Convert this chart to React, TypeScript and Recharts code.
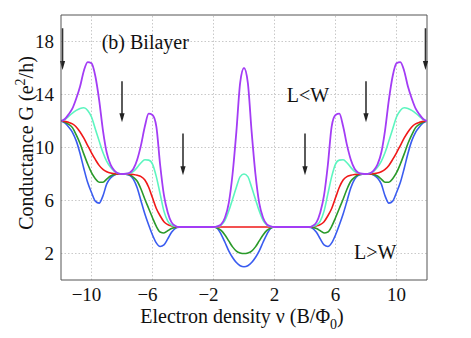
import {
  LineChart,
  Line,
  XAxis,
  YAxis,
  ReferenceLine,
  ReferenceDot,
  Label,
} from "recharts";

// filling factor nu, step 0.25
const nu = [
  -12, -11.75, -11.5, -11.25, -11, -10.75, -10.5, -10.25, -10, -9.75, -9.5,
  -9.25, -9, -8.75, -8.5, -8.25, -8, -7.75, -7.5, -7.25, -7, -6.75, -6.5,
  -6.25, -6, -5.75, -5.5, -5.25, -5, -4.75, -4.5, -4.25, -4, -3.75, -3.5,
  -3.25, -3, -2.75, -2.5, -2.25, -2, -1.75, -1.5, -1.25, -1, -0.75, -0.5,
  -0.25, 0, 0.25, 0.5, 0.75, 1, 1.25, 1.5, 1.75, 2, 2.25, 2.5, 2.75, 3, 3.25,
  3.5, 3.75, 4, 4.25, 4.5, 4.75, 5, 5.25, 5.5, 5.75, 6, 6.25, 6.5, 6.75, 7,
  7.25, 7.5, 7.75, 8, 8.25, 8.5, 8.75, 9, 9.25, 9.5, 9.75, 10, 10.25, 10.5,
  10.75, 11, 11.25, 11.5, 11.75, 12,
];

// L > W (lowest)
const gBlue = [
  12.0, 11.85, 11.55, 11.15, 10.5, 9.55, 8.4, 7.35, 6.6, 5.95, 5.8, 6.35, 7.25,
  7.7, 7.93, 8.0, 8.0, 7.98, 7.9, 7.6, 6.95, 5.95, 4.98, 4.15, 3.4, 2.8, 2.53,
  2.65, 3.1, 3.6, 3.9, 3.99, 4.0, 4.0, 4.0, 4.0, 4.0, 4.0, 4.0, 4.0, 4.0, 3.9,
  3.45, 2.85, 2.2, 1.7, 1.32, 1.08, 1.0, 1.08, 1.32, 1.7, 2.2, 2.85, 3.45, 3.9,
  4.0, 4.0, 4.0, 4.0, 4.0, 4.0, 4.0, 4.0, 4.0, 3.99, 3.9, 3.6, 3.1, 2.65, 2.53,
  2.8, 3.4, 4.15, 4.98, 5.95, 6.95, 7.6, 7.9, 7.98, 8.0, 8.0, 7.93, 7.7, 7.25,
  6.35, 5.8, 5.95, 6.6, 7.35, 8.4, 9.55, 10.5, 11.15, 11.55, 11.85, 12.0,
];

const gGreen = [
  12.0, 11.93, 11.75, 11.5, 10.95, 10.3, 9.5, 8.75, 8.1, 7.65, 7.38, 7.38,
  7.62, 7.85, 7.97, 8.0, 8.0, 7.99, 7.95, 7.75, 7.45, 6.85, 6.1, 5.4, 4.7,
  4.05, 3.62, 3.55, 3.72, 3.88, 3.97, 4.0, 4.0, 4.0, 4.0, 4.0, 4.0, 4.0, 4.0,
  4.0, 4.0, 3.93, 3.75, 3.4, 2.95, 2.5, 2.18, 2.04, 2.0, 2.04, 2.18, 2.5, 2.95,
  3.4, 3.75, 3.93, 4.0, 4.0, 4.0, 4.0, 4.0, 4.0, 4.0, 4.0, 4.0, 4.0, 3.97,
  3.88, 3.72, 3.55, 3.62, 4.05, 4.7, 5.4, 6.1, 6.85, 7.45, 7.75, 7.95, 7.99,
  8.0, 8.0, 7.97, 7.85, 7.62, 7.38, 7.38, 7.65, 8.1, 8.75, 9.5, 10.3, 10.95,
  11.5, 11.75, 11.93, 12.0,
];

// L = W
const gRed = [
  12.0, 11.97, 11.9, 11.78, 11.55, 11.17, 10.7, 10.15, 9.6, 9.1, 8.65, 8.35,
  8.17, 8.07, 8.03, 8.0, 8.0, 8.0, 7.99, 7.96, 7.9, 7.8, 7.55, 7.0, 6.2, 5.4,
  4.85, 4.4, 4.18, 4.08, 4.03, 4.0, 4.0, 4.0, 4.0, 4.0, 4.0, 4.0, 4.0, 4.0,
  4.0, 4.0, 4.0, 4.0, 4.0, 4.0, 4.0, 4.0, 4.0, 4.0, 4.0, 4.0, 4.0, 4.0, 4.0,
  4.0, 4.0, 4.0, 4.0, 4.0, 4.0, 4.0, 4.0, 4.0, 4.0, 4.0, 4.03, 4.08, 4.18,
  4.4, 4.85, 5.4, 6.2, 7.0, 7.55, 7.8, 7.9, 7.96, 7.99, 8.0, 8.0, 8.0, 8.03,
  8.07, 8.17, 8.35, 8.65, 9.1, 9.6, 10.15, 10.7, 11.17, 11.55, 11.78, 11.9,
  11.97, 12.0,
];

const gCyan = [
  12.0, 12.1, 12.35, 12.6, 12.8, 12.95, 13.0, 12.8, 12.3, 11.4, 10.5, 9.62,
  8.95, 8.5, 8.2, 8.05, 8.0, 8.01, 8.05, 8.2, 8.5, 8.85, 9.07, 9.05, 8.75, 7.8,
  6.5, 5.2, 4.45, 4.15, 4.05, 4.0, 4.0, 4.0, 4.0, 4.0, 4.0, 4.0, 4.0, 4.0, 4.0,
  4.03, 4.15, 4.5, 5.2, 6.1, 7.0, 7.8, 8.0, 7.8, 7.0, 6.1, 5.2, 4.5, 4.15, 4.03,
  4.0, 4.0, 4.0, 4.0, 4.0, 4.0, 4.0, 4.0, 4.0, 4.0, 4.05, 4.15, 4.45, 5.2, 6.5,
  7.8, 8.75, 9.05, 9.07, 8.85, 8.5, 8.2, 8.05, 8.01, 8.0, 8.05, 8.2, 8.5, 8.95,
  9.62, 10.5, 11.4, 12.3, 12.8, 13.0, 12.95, 12.8, 12.6, 12.35, 12.1, 12.0,
];

// L < W (highest)
const gPurple = [
  12.0, 12.15, 12.5, 12.95, 13.7, 14.6, 15.8, 16.45, 16.35, 15.4, 13.6, 11.3,
  9.6, 8.7, 8.25, 8.05, 8.0, 8.02, 8.1, 8.4, 9.1, 10.2, 11.6, 12.55, 12.45,
  11.6, 8.7, 6.4, 5.1, 4.35, 4.08, 4.0, 4.0, 4.0, 4.0, 4.0, 4.0, 4.0, 4.0, 4.0,
  4.0, 4.05, 4.2, 4.7, 5.8, 8.0, 11.2, 14.9, 16.0, 14.9, 11.2, 8.0, 5.8, 4.7,
  4.2, 4.05, 4.0, 4.0, 4.0, 4.0, 4.0, 4.0, 4.0, 4.0, 4.0, 4.0, 4.08, 4.35, 5.1,
  6.4, 8.7, 11.6, 12.45, 12.55, 11.6, 10.2, 9.1, 8.4, 8.1, 8.02, 8.0, 8.05,
  8.25, 8.7, 9.6, 11.3, 13.6, 15.4, 16.35, 16.45, 15.8, 14.6, 13.7, 12.95,
  12.5, 12.15, 12.0,
];

const xTicks = [-10, -6, -2, 2, 6, 10];
const yTicks = [2, 6, 10, 14, 18];

// arrows: position, start and tip (data units)
const arrowX = [-11.9, -8, -4, 4, 8, 11.9];
const arrowTop = [19.0, 15.0, 11.05, 11.05, 15.0, 19.0];
const arrowTip = [15.85, 11.9, 7.9, 7.9, 11.9, 15.85];

const data = nu.map((x, i) => ({
  x,
  blue: gBlue[i],
  green: gGreen[i],
  red: gRed[i],
  cyan: gCyan[i],
  purple: gPurple[i],
}));

const FONT = '"Liberation Serif", "Times New Roman", Times, serif';
const GRID = "#c9c9c9";

function XTick({ x, y, payload }: any) {
  const v = payload.value;
  const neg = v < 0;
  return (
    <text
      x={x}
      y={y + 21}
      dx={neg ? -5 : 0}
      textAnchor="middle"
      style={{ fontFamily: FONT }}
      fontSize={19}
      fill="#111"
    >
      {neg ? `\u2212${Math.abs(v)}` : `${v}`}
    </text>
  );
}

function YTick({ x, y, payload }: any) {
  return (
    <text
      x={x - 7}
      y={y}
      dy="0.35em"
      textAnchor="end"
      style={{ fontFamily: FONT }}
      fontSize={19}
      fill="#111"
    >
      {payload.value}
    </text>
  );
}

function Arrow({ x1, y1, x2, y2 }: any) {
  const head = 9;
  return (
    <g>
      <line
        x1={x1}
        y1={y1}
        x2={x2}
        y2={y2 - head + 1}
        stroke="#333"
        strokeWidth={1.6}
      />
      <polygon
        points={`${x2},${y2} ${x2 - 2.6},${y2 - head} ${x2 + 2.6},${y2 - head}`}
        fill="#222"
      />
    </g>
  );
}

// dotted grid line, drawn explicitly so the dash pattern is kept
function GridLine({ x1, y1, x2, y2 }: any) {
  return (
    <line
      x1={x1}
      y1={y1}
      x2={x2}
      y2={y2}
      stroke={GRID}
      strokeWidth={1}
      strokeDasharray="1.5 2"
    />
  );
}

const note = (text: string) => (p: any) =>
  (
    <text
      x={p.cx}
      y={p.cy}
      style={{ fontFamily: FONT }}
      fontSize={20}
      fill="#111"
    >
      {text}
    </text>
  );

export default function App() {
  return (
    <div
      style={{ position: "absolute", left: 0, top: 0, background: "#fff" }}
    >
      <LineChart
        width={471}
        height={338}
        data={data}
        margin={{ top: 15, right: 44, bottom: 0, left: 0 }}
      >
        <XAxis
          type="number"
          dataKey="x"
          domain={[-12, 12]}
          ticks={xTicks}
          allowDataOverflow
          height={58}
          tickSize={0}
          tickMargin={0}
          tick={<XTick />}
          axisLine={{ stroke: "#555" }}
        >
          <Label
            content={(p: any) => {
              const vb = p.viewBox;
              return (
                <text
                  x={vb.x + vb.width / 2 - 2}
                  y={323}
                  textAnchor="middle"
                  style={{ fontFamily: FONT }}
                  fontSize={20}
                  fill="#111"
                >
                  Electron density ν (B/Φ
                  <tspan dy={6} fontSize={14}>
                    0
                  </tspan>
                  <tspan dy={-6}>)</tspan>
                </text>
              );
            }}
          />
        </XAxis>
        <YAxis
          type="number"
          domain={[0, 20]}
          ticks={yTicks}
          allowDataOverflow
          width={61}
          tickSize={0}
          tickMargin={0}
          tick={<YTick />}
          axisLine={{ stroke: "#555" }}
        >
          <Label
            content={() => (
              <text
                x={33}
                y={143}
                transform="rotate(-90, 33, 143)"
                textAnchor="middle"
                style={{ fontFamily: FONT }}
                fontSize={20}
                fill="#111"
              >
                Conductance G (e
                <tspan dy={-8} fontSize={14}>
                  2
                </tspan>
                <tspan dy={8}>/h)</tspan>
              </text>
            )}
          />
        </YAxis>

        {xTicks.map((t) => (
          <ReferenceLine
            key={`gx${t}`}
            segment={[
              { x: t, y: 0 },
              { x: t, y: 20 },
            ]}
            shape={<GridLine />}
          />
        ))}
        {yTicks.map((t) => (
          <ReferenceLine
            key={`gy${t}`}
            segment={[
              { x: -12, y: t },
              { x: 12, y: t },
            ]}
            shape={<GridLine />}
          />
        ))}
        <ReferenceLine y={20} stroke="#555" />
        <ReferenceLine x={12} stroke="#555" />

        <Line
          type="monotone"
          dataKey="blue"
          stroke="#3a5cf0"
          strokeWidth={1.6}
          dot={false}
          isAnimationActive={false}
        />
        <Line
          type="monotone"
          dataKey="green"
          stroke="#2a9a2a"
          strokeWidth={1.6}
          dot={false}
          isAnimationActive={false}
        />
        <Line
          type="monotone"
          dataKey="red"
          stroke="#f01818"
          strokeWidth={1.6}
          dot={false}
          isAnimationActive={false}
        />
        <Line
          type="monotone"
          dataKey="cyan"
          stroke="#5cf5bf"
          strokeWidth={1.6}
          dot={false}
          isAnimationActive={false}
        />
        <Line
          type="monotone"
          dataKey="purple"
          stroke="#a33cf5"
          strokeWidth={1.8}
          dot={false}
          isAnimationActive={false}
        />

        {arrowX.map((ax, i) => (
          <ReferenceLine
            key={i}
            segment={[
              { x: ax, y: arrowTop[i] },
              { x: ax, y: arrowTip[i] },
            ]}
            shape={<Arrow />}
          />
        ))}

        <ReferenceDot x={-9.33} y={17.4} r={0} shape={note("(b) Bilayer")} />
        <ReferenceDot x={2.8} y={13.47} r={0} shape={note("L<W")} />
        <ReferenceDot x={7.21} y={1.55} r={0} shape={note("L>W")} />
      </LineChart>
    </div>
  );
}
